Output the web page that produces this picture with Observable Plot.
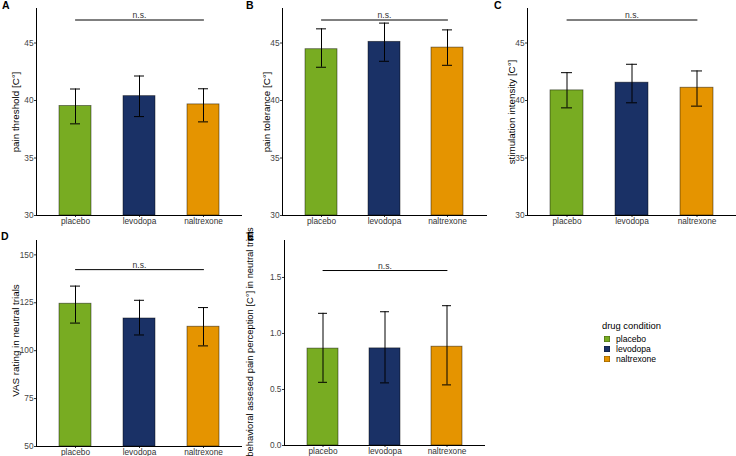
<!DOCTYPE html>
<html>
<head>
<meta charset="utf-8">
<script src="https://cdn.jsdelivr.net/npm/d3@7"></script>
<script src="https://cdn.jsdelivr.net/npm/@observablehq/plot@0.6"></script>
<style>
  html, body { margin: 0; padding: 0; background: #fff; }
  body { width: 736px; height: 456px; overflow: hidden; position: relative; font-family: "Liberation Sans", Arial, sans-serif; }
  .panel { position: absolute; }
  .letter { position: absolute; font-weight: bold; font-size: 10.5px; line-height: 1; color: #000; }
  .legend { position: absolute; font-size: 8.6px; color: #000; }
</style>
</head>
<body>
<script>
// ---- data ----
const drugs = ["placebo", "levodopa", "naltrexone"];
const drugColors = ["#78AC22", "#1A3166", "#E59400"];

const thresholdMean = [39.52, 40.38, 39.66];
const thresholdLow  = [37.97, 38.60, 38.14];
const thresholdHigh = [41.00, 42.13, 41.02];

const toleranceMean = [44.46, 45.10, 44.60];
const toleranceLow  = [42.89, 43.41, 43.06];
const toleranceHigh = [46.23, 46.73, 46.14];

const stimulationMean = [40.88, 41.55, 41.11];
const stimulationLow  = [39.36, 39.80, 39.51];
const stimulationHigh = [42.42, 43.15, 42.57];

const vasMean = [124.5, 116.8, 112.5];
const vasLow  = [114.4, 108.2, 102.5];
const vasHigh = [133.7, 126.3, 122.5];

const behavMean = [0.865, 0.867, 0.882];
const behavLow  = [0.564, 0.559, 0.541];
const behavHigh = [1.180, 1.194, 1.248];

const tempTicks = [30, 35, 40, 45];
const vasTicks = [50, 75, 100, 125, 150];
const behavTicks = [0, 0.5, 1, 1.5];

const panelLetters = ["A", "B", "C", "D", "E"];
const legendTitle = "drug condition";
const sigLabel = "n.s.";

// ---- panel builder ----
function panel(cfg) {
  const rows = drugs.map((d, i) => ({drug: d, mean: cfg.mean[i], low: cfg.low[i], high: cfg.high[i]}));
  const nsRows = [{drug: drugs[0], y: cfg.ns}, {drug: drugs[drugs.length - 1], y: cfg.ns}];
  const mid = [{drug: drugs[1], y: cfg.ns}];
  const p = Plot.plot({
    width: cfg.width, height: cfg.height,
    marginLeft: cfg.ml, marginRight: cfg.mr, marginTop: cfg.mt, marginBottom: cfg.mb,
    style: {overflow: "visible", fontFamily: "Liberation Sans, Arial, sans-serif", fontSize: "8.3px", background: "transparent"},
    x: {domain: drugs, paddingInner: 0.5, paddingOuter: 0.35, axis: null},
    y: {domain: cfg.domain, axis: null},
    color: {domain: drugs, range: drugColors},
    marks: [
      Plot.barY(rows, {x: "drug", y1: cfg.domain[0], y2: "mean", fill: "drug", stroke: "#000", strokeOpacity: 0.55, strokeWidth: 0.8}),
      Plot.ruleX(rows, {x: "drug", y1: "low", y2: "high", stroke: "#000", strokeWidth: 1}),
      Plot.tickY(rows, {x: "drug", y: "low", inset: 11, stroke: "#000", strokeWidth: 1}),
      Plot.tickY(rows, {x: "drug", y: "high", inset: 11, stroke: "#000", strokeWidth: 1}),
      Plot.line(nsRows, {x: "drug", y: "y", stroke: "#000", strokeWidth: 1}),
      Plot.text(mid, {x: "drug", y: "y", text: () => sigLabel, lineAnchor: "bottom", dy: -2, fontSize: 8.6, fill: "#333"}),
      Plot.axisX({tickSize: 2, tickPadding: 1, fill: "#333", stroke: "#333", label: null, fontSize: 8.3}),
      Plot.axisY({ticks: cfg.ticks, tickFormat: cfg.fmt, tickSize: 2, tickPadding: 1, fill: "#444", stroke: "#333", label: null, fontSize: 8.3}),
      Plot.frame({anchor: "left", stroke: "#000", strokeWidth: 1}),
      Plot.frame({anchor: "bottom", stroke: "#000", strokeWidth: 1}),
      Plot.text([cfg.title], {frameAnchor: "left", text: d => d, rotate: -90, textAnchor: "middle", lineAnchor: "middle", dx: cfg.titleDx, dy: cfg.titleDy || 0, fontSize: cfg.titleSize, fill: "#000"})
    ]
  });
  const wrap = document.createElement("div");
  wrap.className = "panel";
  wrap.style.left = cfg.left + "px";
  wrap.style.top = cfg.top + "px";
  wrap.appendChild(p);
  document.body.appendChild(wrap);
}

const fmt0 = d => d3.format("d")(d);
const fmt1 = d => d3.format(".1f")(d);

panel({left: 0, top: 0, width: 245, height: 230, ml: 36, mr: 4, mt: 8, mb: 15,
  domain: [30, 48], ticks: tempTicks, fmt: fmt0, ns: 47,
  mean: thresholdMean, low: thresholdLow, high: thresholdHigh,
  title: "pain threshold [C°]", titleDx: -21, titleSize: 9.8});
panel({left: 245, top: 0, width: 245, height: 230, ml: 37, mr: 4, mt: 8, mb: 15,
  domain: [30, 48], ticks: tempTicks, fmt: fmt0, ns: 47,
  mean: toleranceMean, low: toleranceLow, high: toleranceHigh,
  title: "pain tolerance [C°]", titleDx: -16, titleSize: 9.8});
panel({left: 490, top: 0, width: 246, height: 230, ml: 37, mr: 1, mt: 8, mb: 15,
  domain: [30, 48], ticks: tempTicks, fmt: fmt0, ns: 47,
  mean: stimulationMean, low: stimulationLow, high: stimulationHigh,
  title: "stimulation intensity [C°]", titleDx: -16, titleSize: 9.8});
panel({left: 0, top: 232, width: 245, height: 224, ml: 36, mr: 4, mt: 8, mb: 10,
  domain: [50, 157.5], ticks: vasTicks, fmt: fmt0, ns: 142.3,
  mean: vasMean, low: vasLow, high: vasHigh,
  title: "VAS rating in neutral trials", titleDx: -21, titleDy: -3, titleSize: 9.8});
panel({left: 245, top: 232, width: 245, height: 224, ml: 39, mr: 6, mt: 8, mb: 11,
  domain: [0, 1.83], ticks: behavTicks, fmt: fmt1, ns: 1.562,
  mean: behavMean, low: behavLow, high: behavHigh,
  title: "behavioral assesed pain perception [C°] in neutral trials", titleDx: -34.5, titleDy: -1, titleSize: 9.4});

// panel letters
const letterPos = [[2, 0], [246, 0], [494, 0], [1, 231], [247, 231]];
panelLetters.forEach((l, i) => {
  const d = document.createElement("div");
  d.className = "letter";
  d.textContent = l;
  d.style.left = letterPos[i][0] + "px";
  d.style.top = letterPos[i][1] + "px";
  document.body.appendChild(d);
});

// legend
const leg = document.createElement("div");
leg.className = "legend";
leg.style.left = "602px";
leg.style.top = "320px";
const lt = document.createElement("div");
lt.textContent = legendTitle;
lt.style.fontSize = "9.4px";
lt.style.lineHeight = "12px";
lt.style.marginBottom = "2px";
leg.appendChild(lt);
drugs.forEach((d, i) => {
  const row = document.createElement("div");
  row.style.display = "flex";
  row.style.alignItems = "center";
  row.style.height = "10px";
  const sw = document.createElement("span");
  sw.style.display = "inline-block";
  sw.style.width = "6px";
  sw.style.height = "6px";
  sw.style.marginLeft = "2px";
  sw.style.marginRight = "6px";
  sw.style.background = drugColors[i];
  sw.style.boxShadow = "inset 0 0 0 0.6px rgba(0,0,0,0.4)";
  row.appendChild(sw);
  const tx = document.createElement("span");
  tx.textContent = d;
  row.appendChild(tx);
  leg.appendChild(row);
});
document.body.appendChild(leg);
</script>
</body>
</html>
